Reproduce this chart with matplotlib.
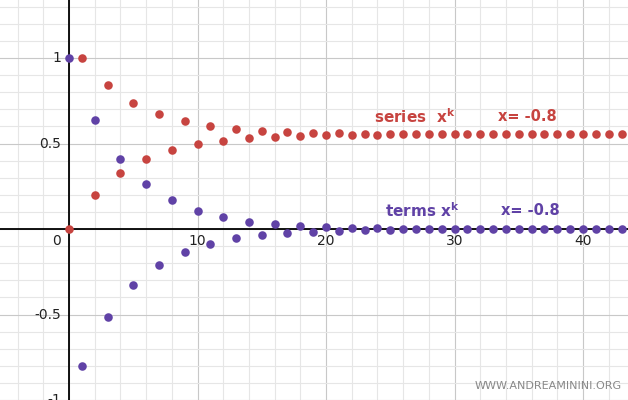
import matplotlib.pyplot as plt
import numpy as np

# index k
k = list(range(44))
# terms of (-0.8)^k
terms = [1, -0.8, 0.64, -0.512, 0.4096, -0.32768, 0.262144, -0.209715, 0.167772,
         -0.134218, 0.107374, -0.085899, 0.068719, -0.054976, 0.04398, -0.035184,
         0.028147, -0.022518, 0.018014, -0.014412, 0.011529, -0.009223, 0.007379,
         -0.005903, 0.004722, -0.003778, 0.003022, -0.002418, 0.001934, -0.001547,
         0.001238, -0.001, 0.001, -0.001, 0.001, 0, 0, 0, 0, 0, 0, 0, 0, 0]
# partial sums
series = [0, 1, 0.2, 0.84, 0.328, 0.7376, 0.40992, 0.672064, 0.462349, 0.630121,
          0.495903, 0.603277, 0.517378, 0.586097, 0.531121, 0.575101, 0.539917,
          0.568064, 0.545546, 0.56356, 0.549148, 0.560677, 0.551454, 0.558833,
          0.55293, 0.557652, 0.553874, 0.556896, 0.554478, 0.556412, 0.554865,
          0.556103, 0.555113, 0.555905, 0.555271, 0.555778, 0.555372, 0.555697,
          0.555437, 0.555645, 0.555478, 0.555612, 0.555505, 0.555591]

red = "#c74440"
purple = "#6042a6"

fig = plt.figure(figsize=(6.28, 4.0), dpi=100)
ax = fig.add_axes([0, 0, 1, 1])
ax.set_xlim(-5.37, 43.5)
ax.set_ylim(-1.0, 1.34)

# grid
for x in np.arange(-4, 44, 2):
    ax.axvline(x, color="#e6e6e6" if x % 10 else "#c8c8c8", lw=0.8, zorder=0)
for y in np.arange(-1.0, 1.4, 0.1):
    ax.axhline(y, color="#c8c8c8" if abs(round(y * 10) % 5) == 0 else "#e6e6e6", lw=0.8, zorder=0)
ax.axhline(0, color="black", lw=1.3, zorder=1)
ax.axvline(0, color="black", lw=1.3, zorder=1)

ax.scatter(k, series, s=38, color=red, zorder=3, linewidths=0)
ax.scatter(k, terms, s=38, color=purple, zorder=3, linewidths=0)

# tick labels
for y, lab in [(1, "1"), (0.5, "0.5"), (-0.5, "-0.5"), (-1, "-1")]:
    ax.text(-0.6, y, lab, ha="right", va="center", fontsize=10, color="#222")
ax.text(-0.6, -0.03, "0", ha="right", va="top", fontsize=10, color="#222")
for x in [10, 20, 30, 40]:
    ax.text(x, -0.03, str(x), ha="center", va="top", fontsize=10, color="#222")

ax.text(23.7, 0.66, r"series  $\mathbf{x^k}$", color=red, fontsize=11, fontweight="bold", va="center")
ax.text(33.4, 0.66, "x= -0.8", color=red, fontsize=10.5, fontweight="bold", va="center")
ax.text(24.6, 0.11, r"terms $\mathbf{x^k}$", color=purple, fontsize=11, fontweight="bold", va="center")
ax.text(33.6, 0.11, "x= -0.8", color=purple, fontsize=10.5, fontweight="bold", va="center")
ax.text(43.0, -0.92, "WWW.ANDREAMININI.ORG", color="#888", fontsize=8, ha="right", va="center")

ax.axis("off")
fig.savefig("out.png", dpi=100)
